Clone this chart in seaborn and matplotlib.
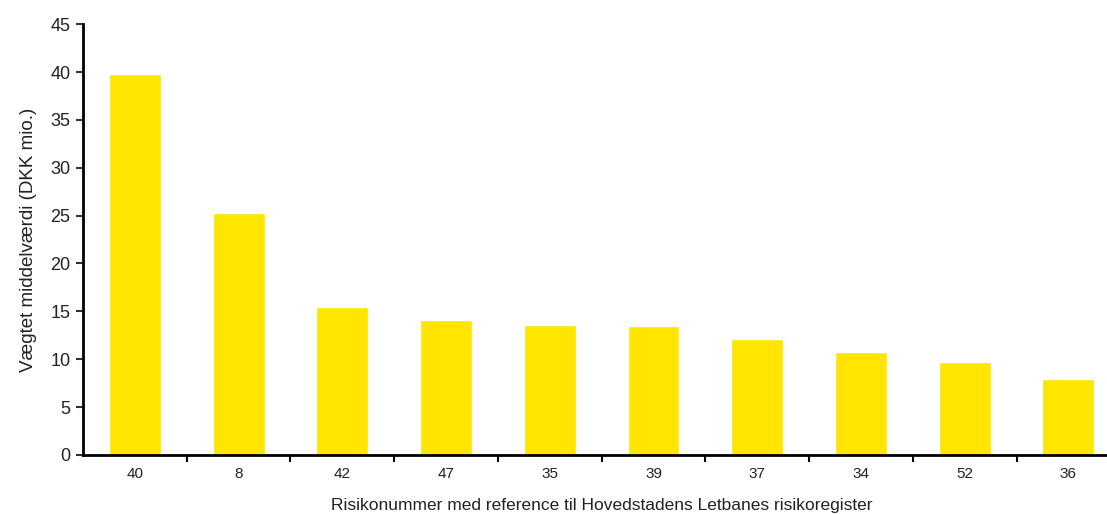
import matplotlib
matplotlib.use("Agg")
import matplotlib.pyplot as plt
import seaborn as sns
import pandas as pd
import numpy as np
from matplotlib.ticker import FixedLocator, NullFormatter

risks = ["40", "8", "42", "47", "35", "39", "37", "34", "52", "36"]
values = [39.8, 25.3, 15.5, 14.1, 13.6, 13.5, 12.1, 10.7, 9.7, 7.9]
y_ticks = [0, 5, 10, 15, 20, 25, 30, 35, 40, 45]

df = pd.DataFrame({"risk": risks, "value": values})

sns.set_style("white")
plt.rcParams["font.family"] = ["Liberation Sans Narrow", "Liberation Sans", "DejaVu Sans"]

fig = plt.figure(figsize=(11.07, 5.14), dpi=100)
ax = fig.add_axes([0.075, 0.115, 0.937, 0.838])

sns.barplot(data=df, x="risk", y="value", order=risks, color="#FFE500",
            width=0.5, saturation=1, ax=ax)

ax.set_ylim(0, 45)
ax.set_xlim(-0.5, len(risks) - 0.5)
ax.set_yticks(y_ticks)
ax.tick_params(axis="y", labelsize=13, length=5, width=1.5, direction="out",
               left=True, color="#333333", pad=4, labelcolor="#222222")
ax.tick_params(axis="x", which="major", length=0, labelsize=11, pad=9,
               labelcolor="#222222")
ax.xaxis.set_minor_locator(FixedLocator(np.arange(0.5, len(risks) - 0.5, 1.0)))
ax.xaxis.set_minor_formatter(NullFormatter())
ax.tick_params(axis="x", which="minor", length=5, width=1.5, direction="out",
               bottom=True, color="black")

for side in ("top", "right"):
    ax.spines[side].set_visible(False)
for side in ("left", "bottom"):
    ax.spines[side].set_color("black")
    ax.spines[side].set_linewidth(2)

ax.set_xlabel("Risikonummer med reference til Hovedstadens Letbanes risikoregister",
              fontsize=12.5, labelpad=12, color="#222222")
ax.set_ylabel("Vægtet middelværdi (DKK mio.)", fontsize=13.5, labelpad=10,
              color="#222222")

fig.savefig("out.png", dpi=100)
